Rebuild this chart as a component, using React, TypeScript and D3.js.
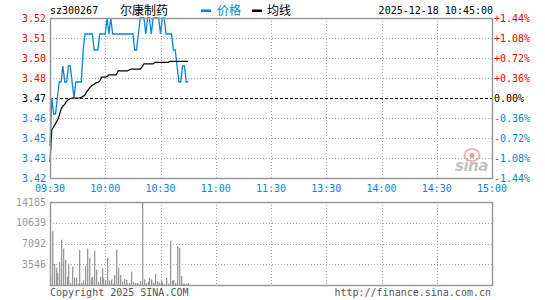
import React from 'react';
import * as d3 from 'd3';

// quote header
const code = 'sz300267';
const stockName = '尔康制药';
const stamp = '2025-12-18 10:45:00';
const prevClose = 3.47;

// axis labels (9 price rows, 9 time columns)
const priceTicks = ['3.52', '3.51', '3.50', '3.48', '3.47', '3.46', '3.45', '3.43', '3.42'];
const pctTicks = ['+1.44%', '+1.08%', '+0.72%', '+0.36%', '0.00%', '-0.36%', '-0.72%', '-1.08%', '-1.44%'];
const timeTicks = ['09:30', '10:00', '10:30', '11:00', '11:30', '13:30', '14:00', '14:30', '15:00'];
const volTicks = ['14185', '10639', '7092', '3546'];

// one value per minute from 09:30 to 10:45
const prices = [
  3.44, 3.47, 3.46, 3.46, 3.47, 3.48, 3.48, 3.49, 3.48, 3.48,
  3.49, 3.49, 3.48, 3.47, 3.48, 3.48, 3.48, 3.48, 3.50, 3.51,
  3.51, 3.51, 3.51, 3.51, 3.50, 3.50, 3.50, 3.51, 3.51, 3.51,
  3.51, 3.52, 3.51, 3.52, 3.51, 3.51, 3.51, 3.51, 3.51, 3.51,
  3.51, 3.51, 3.51, 3.51, 3.51, 3.51, 3.50, 3.50, 3.51, 3.52,
  3.52, 3.52, 3.51, 3.52, 3.52, 3.51, 3.52, 3.52, 3.52, 3.52,
  3.51, 3.52, 3.52, 3.51, 3.51, 3.51, 3.51, 3.50, 3.50, 3.49,
  3.48, 3.48, 3.49, 3.49, 3.48, 3.48,
];

const avgPrices = [
  3.430, 3.450, 3.452, 3.454, 3.456, 3.459, 3.463, 3.465, 3.466, 3.468,
  3.469, 3.4695, 3.470, 3.470, 3.470, 3.470, 3.470, 3.4705, 3.471, 3.472,
  3.474, 3.4755, 3.477, 3.478, 3.4785, 3.4795, 3.4798, 3.4805, 3.483, 3.483,
  3.483, 3.4835, 3.4844, 3.4844, 3.4844, 3.4844, 3.4844, 3.487, 3.487, 3.487,
  3.487, 3.487, 3.487, 3.4875, 3.488, 3.488, 3.488, 3.488, 3.488, 3.488,
  3.4895, 3.4913, 3.4913, 3.4913, 3.4913, 3.4913, 3.4913, 3.4923, 3.4923, 3.4923,
  3.4923, 3.4923, 3.4923, 3.4923, 3.4923, 3.4929, 3.4929, 3.4929, 3.4929, 3.4929,
  3.4929, 3.4929, 3.4929, 3.4929, 3.4929, 3.4929,
];

const volumes = [
  1415, 9170, 3620, 2940, 2090, 3960, 7750, 6230, 4300, 1415,
  3620, 400, 3110, 1245, 1245, 230, 6000, 400, 790, 3280,
  6230, 4640, 1245, 1415, 5890, 2660, 570, 1415, 2830, 1245,
  790, 4640, 790, 960, 230, 1700, 6060, 2940, 1700, 570,
  1075, 905, 230, 350, 2260, 510, 340, 340, 115, 680,
  14185, 960, 340, 570, 1245, 960, 400, 1925, 680, 400,
  905, 340, 115, 1245, 230, 7585, 790, 790, 400, 6620,
  6340, 1580, 230, 230, 230, 340,
];

const RED = '#f00000';
const BLUE = '#0a84d6';
const GRID = '#aaaaaa';
const FRAME = '#999999';
const MONO = '"DejaVu Sans Mono", monospace';
const CJK = '"Noto Sans CJK SC", sans-serif';

export default function App() {
  const width = 545;
  const height = 300;
  const left = 50;
  const right = 492;
  const pTop = 18;
  const pBottom = 178;
  const vTop = 202;
  const vBottom = 285;

  const x = d3.scaleLinear().domain([0, 240]).range([left, right]);
  const y = d3.scaleLinear().domain([prevClose - 0.05, prevClose + 0.05]).range([pBottom, pTop]);
  const yv = d3.scaleLinear().domain([0, d3.max(volumes) as number]).range([vBottom, vTop]);

  const rowY = d3.scaleLinear().domain([0, priceTicks.length - 1]).range([pTop, pBottom]);
  const colX = d3.scaleLinear().domain([0, timeTicks.length - 1]).range([left, right]);
  const volRowY = d3.scaleLinear().domain([0, volTicks.length]).range([vTop, vBottom]);

  const line = d3.line<number>()
    .x((d, i) => x(i))
    .y(d => y(d));

  const mid = (priceTicks.length - 1) / 2;
  const labelColor = (i: number) => (i < mid ? RED : i > mid ? BLUE : '#000');

  return (
    <svg width={width} height={height} style={{ position: 'absolute', left: 0, top: 0, background: '#fff' }}>
      {/* header */}
      <text x={left} y={14} fontFamily={MONO} fontSize={10} fill="#000">{code}</text>
      <text x={120} y={15} fontFamily={CJK} fontSize={12} fill="#000">{stockName}</text>
      <rect x={201} y={9.5} width={10} height={2.5} fill={BLUE} />
      <text x={217} y={15} fontFamily={CJK} fontSize={12} fill={BLUE}>价格</text>
      <rect x={252} y={9.5} width={10} height={2.5} fill="#000" />
      <text x={267} y={15} fontFamily={CJK} fontSize={12} fill="#000">均线</text>
      <text x={right + 1} y={14} textAnchor="end" fontFamily={MONO} fontSize={10} fill="#000">{stamp}</text>

      {/* price grid */}
      {priceTicks.map((_, i) => (i === 0 || i === priceTicks.length - 1 || i === mid) ? null : (
        <line key={'ph' + i} x1={left} x2={right} y1={rowY(i) + 0.5} y2={rowY(i) + 0.5}
          stroke={GRID} strokeDasharray="1,2" />
      ))}
      {timeTicks.map((_, i) => (i === 0 || i === timeTicks.length - 1) ? null : (
        <g key={'pv' + i}>
          <line x1={Math.round(colX(i)) + 0.5} x2={Math.round(colX(i)) + 0.5} y1={pTop} y2={pBottom}
            stroke={GRID} strokeDasharray="1,2" />
          <line x1={Math.round(colX(i)) + 0.5} x2={Math.round(colX(i)) + 0.5} y1={vTop} y2={vBottom}
            stroke={GRID} strokeDasharray="1,2" />
        </g>
      ))}
      <line x1={left} x2={right} y1={rowY(mid) + 0.5} y2={rowY(mid) + 0.5} stroke="#000" strokeDasharray="3,2" />

      {/* sina watermark */}
      <g>
        <ellipse cx={472} cy={155} rx={7.5} ry={6} fill="none" stroke="#f4b0b0" strokeWidth={2} />
        <circle cx={472} cy={155.5} r={2.5} fill="#d89a9a" />
        <text x={455} y={171} fontFamily='"DejaVu Sans", sans-serif' fontSize={15} fontStyle="italic"
          fontWeight="bold" fill="#c2c2c2" letterSpacing={-0.5}>sina</text>
      </g>

      {/* price and average lines */}
      <path d={line(prices) ?? ''} fill="none" stroke={BLUE} strokeWidth={1.3} />
      <path d={line(avgPrices) ?? ''} fill="none" stroke="#000" strokeWidth={1.2} />

      <rect x={left + 0.5} y={pTop + 0.5} width={right - left} height={pBottom - pTop}
        fill="none" stroke={FRAME} strokeWidth={1.5} />

      {/* price axis labels */}
      {priceTicks.map((t, i) => (
        <text key={'pl' + i} x={46} y={rowY(i) + 3.5} textAnchor="end" fontFamily={MONO} fontSize={10}
          fill={labelColor(i)}>{t}</text>
      ))}
      {pctTicks.map((t, i) => (
        <text key={'pr' + i} x={494} y={rowY(i) + 3.5} fontFamily={MONO} fontSize={10}
          fill={labelColor(i)}>{t}</text>
      ))}
      {timeTicks.map((t, i) => (
        <text key={'tl' + i} x={colX(i)} y={192} textAnchor="middle" fontFamily={MONO} fontSize={10}
          fill={BLUE}>{t}</text>
      ))}

      {/* volume grid */}
      {volTicks.map((_, i) => i === 0 ? null : (
        <line key={'vh' + i} x1={left} x2={right} y1={Math.round(volRowY(i)) + 0.5} y2={Math.round(volRowY(i)) + 0.5}
          stroke={GRID} strokeDasharray="1,2" />
      ))}

      {/* volume bars */}
      {volumes.map((v, i) => (
        <rect key={'vb' + i} x={Math.round(x(i))} y={yv(v)} width={1.3} height={vBottom - yv(v)} fill="#999" />
      ))}

      <rect x={left + 0.5} y={vTop + 0.5} width={right - left} height={vBottom - vTop}
        fill="none" stroke={FRAME} strokeWidth={1.5} />

      {volTicks.map((t, i) => (
        <text key={'vl' + i} x={46} y={volRowY(i) + 3.5} textAnchor="end" fontFamily={MONO} fontSize={10}
          fill="#999">{t}</text>
      ))}

      {/* footer */}
      <text x={left} y={296} fontFamily={MONO} fontSize={10} fill="#555">Copyright 2025 SINA.COM</text>
      <text x={right - 1} y={296} textAnchor="end" fontFamily={MONO} fontSize={10} fill="#555">http://finance.sina.com.cn</text>
    </svg>
  );
}
